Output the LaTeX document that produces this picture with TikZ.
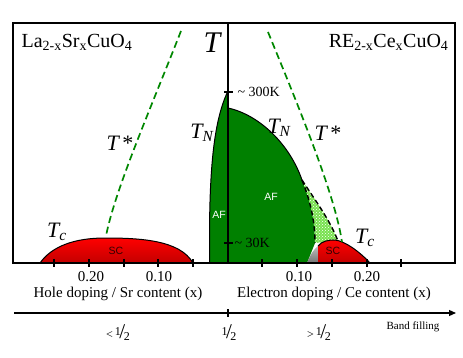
\documentclass[tikz,border=0pt]{standalone}
\usepackage{fontspec}
\setmainfont{Liberation Serif}
\newfontfamily\regionfont{Liberation Sans}
\usetikzlibrary{arrows.meta, patterns}

\definecolor{afgreen}{RGB}{0,128,0}
\definecolor{tstargreen}{RGB}{0,135,0}
\definecolor{mixgreen}{RGB}{120,225,80}
\definecolor{scdark}{RGB}{195,0,0}

% slanted one half
\newcommand{\halfsl}{\raisebox{0.55ex}{\fontsize{12}{13}\selectfont 1}\kern-0.12em{\fontsize{21}{22}\selectfont /}\kern-0.12em\raisebox{-0.35ex}{\fontsize{12}{13}\selectfont 2}}

\begin{document}
\begin{tikzpicture}[x=1pt, y=-1pt,
    frame/.style={line width=1.2pt},
    bound/.style={draw=black, line width=1pt},
    tstar/.style={draw=tstargreen, line width=1.7pt, dash pattern=on 7pt off 4pt},
    cross/.style={draw=black, line width=1.4pt, dash pattern=on 5pt off 3pt},
    sc/.style={bound, top color=red, bottom color=scdark},
    compound/.style={font=\fontsize{20}{22}\selectfont},
    tlabel/.style={font=\fontsize{22}{24}\selectfont\itshape},
    axlabel/.style={font=\fontsize{15}{17}\selectfont},
    filling/.style={font=\fontsize{12}{13}\selectfont, inner sep=1pt},
    region/.style={font=\fontsize{10.5}{11}\selectfont\regionfont}
]
\useasboundingbox (0,0) rectangle (463,358);

% superconducting domes
\shade[sc] (40,263) .. controls (52,246) and (75,238) .. (105,238)
    .. controls (140,238) and (180,240) .. (193,263) -- cycle;

% antiferromagnet, hole side
\fill[afgreen] (209.5,263) -- (209.5,230) .. controls (210,160) and (215,120) .. (227,93)
    -- (228,93) -- (228,263) -- cycle;
\draw[bound] (209.5,263) -- (209.5,230) .. controls (210,160) and (215,120) .. (227,93);

% antiferromagnet, electron side
\fill[afgreen] (228,108) .. controls (260,115) and (290,145) .. (302,180)
    .. controls (312,205) and (315,225) .. (315,243) -- (307,263) -- (228,263) -- cycle;
\fill[mixgreen] (302,180) .. controls (312,205) and (315,225) .. (315,243)
    -- (338,241) .. controls (330,220) and (315,200) .. (302,180);
\fill[pattern=crosshatch dots, pattern color=white] (302,180) .. controls (312,205) and (315,225) .. (315,243)
    -- (338,241) .. controls (330,220) and (315,200) .. (302,180);
\draw[bound] (228,108) .. controls (260,115) and (290,145) .. (302,180);
\draw[cross] (302,180) .. controls (312,205) and (315,225) .. (315,243);
\draw[cross] (302,180) .. controls (315,200) and (330,220) .. (338,241);
\shade[top color=gray!50, bottom color=gray!90!black] (307,263) .. controls (310,255) and (314,249) .. (318,246) -- (318,263) -- cycle;
\shade[top color=red, bottom color=scdark] (318,246) .. controls (322,241) and (328,240) .. (335,240)
    .. controls (345,241) and (360,252) .. (370,263) -- (318,263) -- cycle;
\draw[bound] (318,246) .. controls (322,241) and (328,240) .. (335,240)
    .. controls (345,241) and (360,252) .. (370,263);

% pseudogap lines
\draw[tstar] (181,31) .. controls (150,110) and (115,190) .. (106,236);
\draw[tstar] (268,32) .. controls (300,110) and (335,195) .. (342,242);

% frame and axes
\draw[frame] (13,23) rectangle (455,263);
\draw[frame] (228,23) -- (228,263);
\foreach \xt in {54,89,124,158,193,262,297,332,367,401}
  \draw[frame] (\xt,259) -- (\xt,267);
\draw[frame] (224,92) -- (233,92);
\draw[frame] (224,243) -- (233,243);

% band filling axis
\coordinate (bandL) at (14,313);
\coordinate (bandR) at (456,313);
\draw[frame, -{Triangle[length=7pt, width=6pt]}] (bandL) -- (bandR);
\draw[frame] (228,309) -- (228,317);

% labels
\node[compound, anchor=west] (holecmp) at (18,42) {La\textsubscript{2-x}Sr\textsubscript{x}CuO\textsubscript{4}};
\node[compound, anchor=east] (eleccmp) at (452,42) {RE\textsubscript{2-x}Ce\textsubscript{x}CuO\textsubscript{4}};
\node[font=\fontsize{30}{32}\selectfont\itshape] (Tbig) at (212,43) {T};
\node[tlabel] (TNhole) at (202,133) {T\textsubscript{N}};
\node[tlabel] (TNelec) at (279,128) {T\textsubscript{N}};
\node[tlabel] (Tshole) at (120,143) {T\,\upshape*};
\node[tlabel] (Tselec) at (328,133) {T\,\upshape*};
\node[tlabel] (Tchole) at (57,232) {T\textsubscript{c}};
\node[tlabel] (Tcelec) at (365,238) {T\textsubscript{c}};
\node[font=\fontsize{14}{16}\selectfont, anchor=west] (K300) at (234,92) {\textasciitilde\ 300K};
\node[font=\fontsize{14}{16}\selectfont, anchor=west] (K30) at (231,243) {\textasciitilde\ 30K};
\node[region, white] (AFhole) at (219,215) {AF};
\node[region, white] (AFelec) at (271,197) {AF};
\node[region, black!80!red] (SChole) at (116,251) {SC};
\node[region, black!80!red] (SCelec) at (333,251) {SC};
\node[axlabel] (h20) at (91,277) {0.20};
\node[axlabel] (h10) at (159,277) {0.10};
\node[axlabel] (e10) at (299,277) {0.10};
\node[axlabel] (e20) at (367,277) {0.20};
\node[axlabel] (holeax) at (118,294) {Hole doping / Sr content (x)};
\node[axlabel] (elecax) at (334,294) {Electron doping / Ce content (x)};
\node[filling] (lesshalf) at (118,333) {<\,\halfsl};
\node[filling] (half) at (229,333) {\halfsl};
\node[filling] (morehalf) at (319,333) {>\,\halfsl};
\node[font=\fontsize{11}{12}\selectfont] (bandfill) at (413,327) {Band filling};
\end{tikzpicture}
\end{document}
